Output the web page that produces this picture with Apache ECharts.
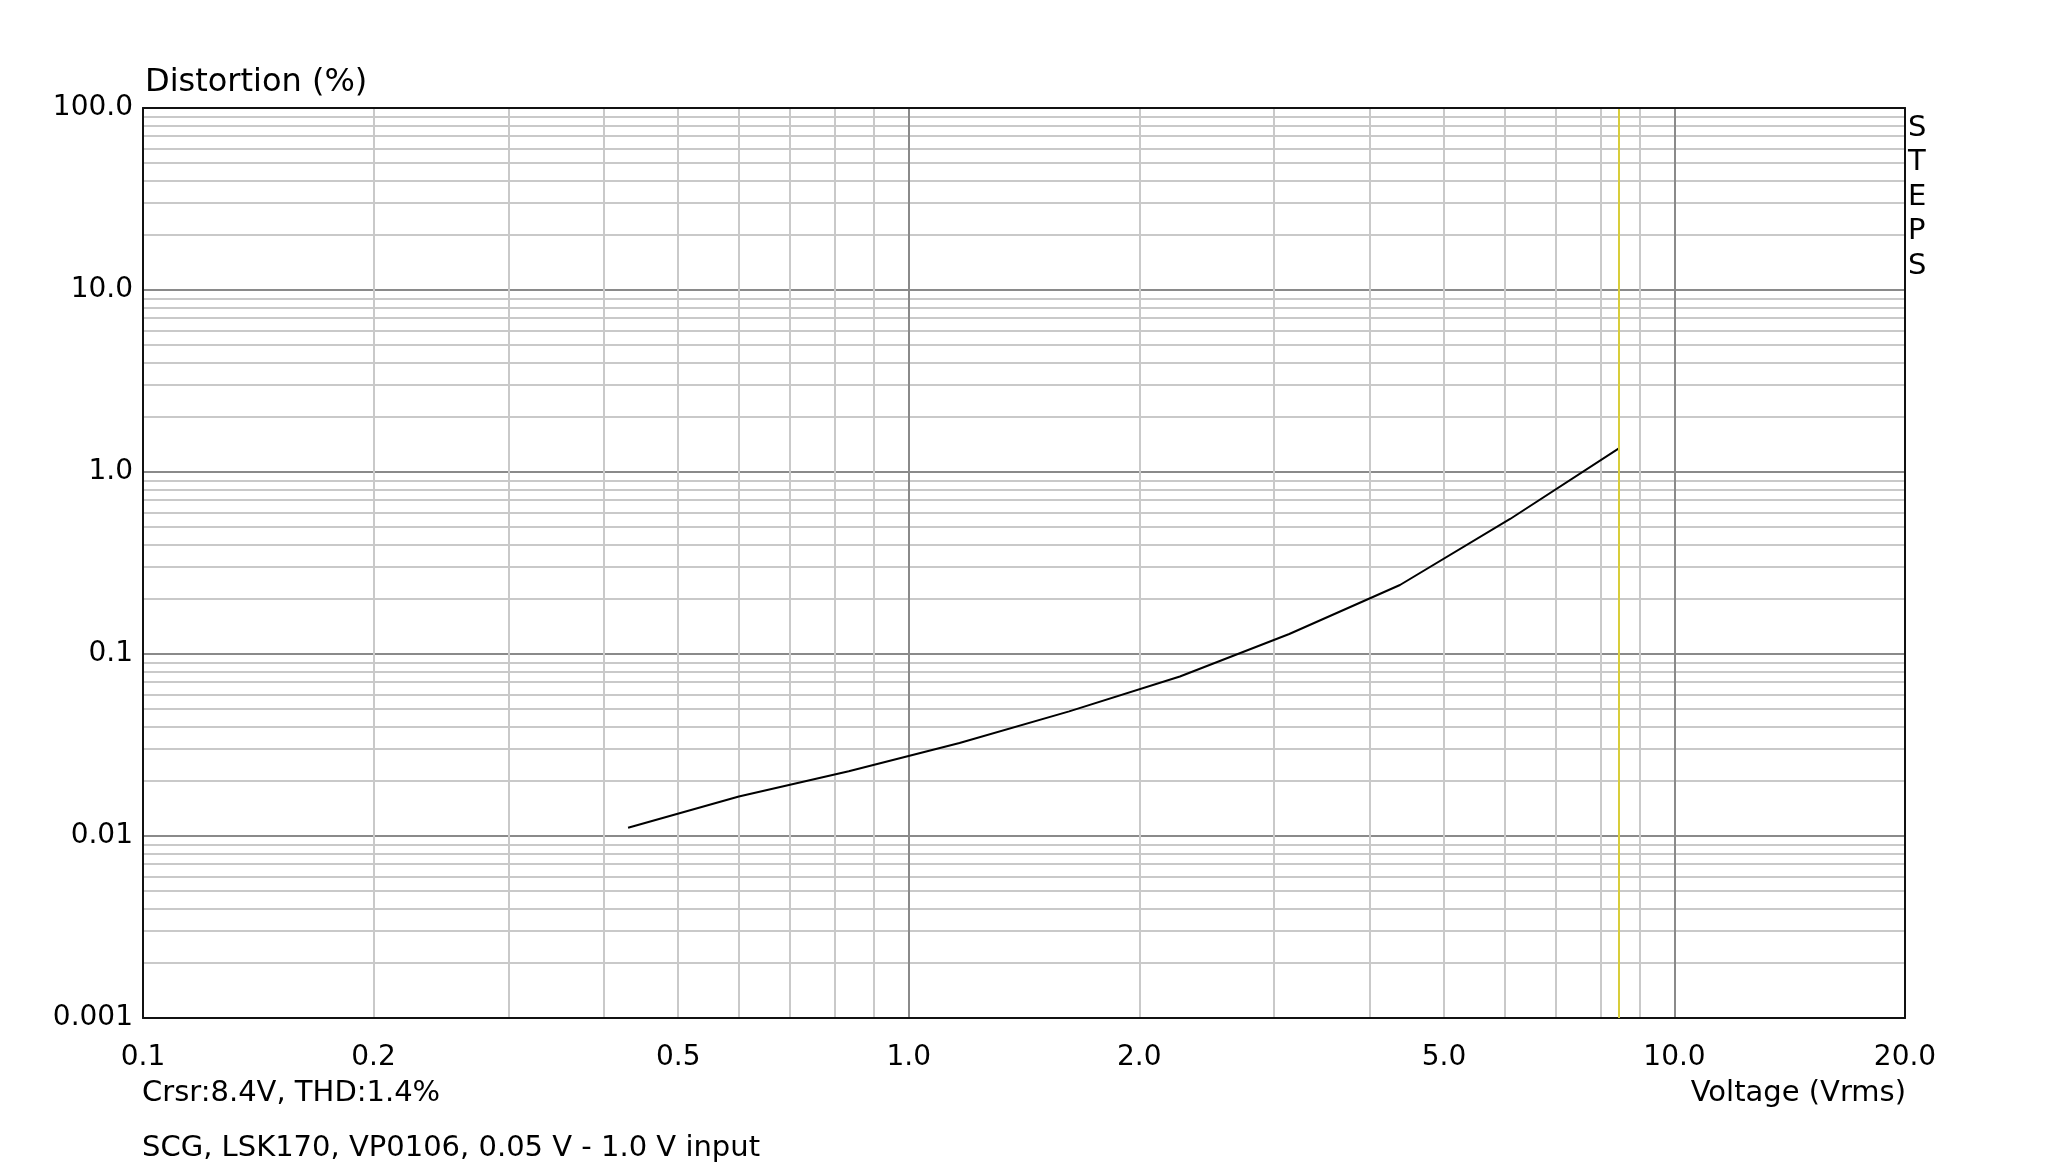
<!DOCTYPE html>
<html>
<head>
<meta charset="utf-8">
<script src="https://cdn.jsdelivr.net/npm/echarts@6/dist/echarts.min.js"></script>
<style>
html,body{margin:0;padding:0;background:#fff;}
#chart{width:2048px;height:1166px;}
</style>
</head>
<body>
<div id="chart"></div>
<script>
// ---- data ----
const voltage    = [0.43, 0.60, 0.835, 1.165, 1.62, 2.26, 3.14, 4.38, 6.1, 8.45];
const distortion = [0.0111, 0.0165, 0.0227, 0.0324, 0.0484, 0.0752, 0.1288, 0.2394, 0.552, 1.343];
const cursorVoltage = 8.45;

// ---- axis ticks / labels ----
const xTickLabels = [0.1, 0.2, 0.5, 1, 2, 5, 10, 20];
const yTickLabels = [0.001, 0.01, 0.1, 1, 10, 100];
const xGridValues = [0.2, 0.3, 0.4, 0.5, 0.6, 0.7, 0.8, 0.9, 1,
                     2, 3, 4, 5, 6, 7, 8, 9, 10];
const yGridValues = [0.002, 0.003, 0.004, 0.005, 0.006, 0.007, 0.008, 0.009, 0.01,
                     0.02, 0.03, 0.04, 0.05, 0.06, 0.07, 0.08, 0.09, 0.1,
                     0.2, 0.3, 0.4, 0.5, 0.6, 0.7, 0.8, 0.9, 1,
                     2, 3, 4, 5, 6, 7, 8, 9, 10,
                     20, 30, 40, 50, 60, 70, 80, 90];

const yTitle = 'Distortion (%)';
const xTitle = 'Voltage (Vrms)';
const cursorText = 'Crsr:8.4V, THD:1.4%';
const noteText = 'SCG, LSK170, VP0106, 0.05 V - 1.0 V input';
const sideText = 'STEPS';

const FONT = '"DejaVu Sans", "Liberation Sans", Arial, sans-serif';
const MINOR = '#c9c9c9';
const MAJOR = '#8a8a8a';
const gridColors = [MINOR, MINOR, MINOR, MINOR, MINOR, MINOR, MINOR, MINOR, MAJOR];

function fmt(v) {
  return v >= 1 ? Number(v).toFixed(1) : String(+Number(v).toPrecision(6));
}

const chart = echarts.init(document.getElementById('chart'), null, {renderer: 'canvas'});
chart.setOption({
  animation: false,
  backgroundColor: '#ffffff',
  textStyle: {fontFamily: FONT},
  title: [
    {text: xTitle, right: 142, top: 1079,
     textStyle: {fontFamily: FONT, fontSize: 29, fontWeight: 'normal', color: '#000'}, padding: 0},
    {text: cursorText, left: 142, top: 1079,
     textStyle: {fontFamily: FONT, fontSize: 29, fontWeight: 'normal', color: '#000'}, padding: 0},
    {text: noteText, left: 142, top: 1134,
     textStyle: {fontFamily: FONT, fontSize: 29, fontWeight: 'normal', color: '#000'}, padding: 0},
    {text: sideText.split('').join('\n'), left: 1908, top: 111,
     textStyle: {fontFamily: FONT, fontSize: 29, fontWeight: 'normal', color: '#000', lineHeight: 34.5}, padding: 0}
  ],
  grid: {left: 143, right: 143, top: 108, bottom: 148, containLabel: false, outerBoundsMode: 'none'},
  xAxis: [
    {
      type: 'log', logBase: 10, min: 0.1, max: 20,
      axisLine: {show: true, lineStyle: {color: '#111', width: 2}},
      axisTick: {show: false, customValues: xGridValues},
      axisLabel: {show: true, customValues: xTickLabels, formatter: fmt, margin: 26,
                  color: '#000', fontSize: 28, fontFamily: FONT},
      splitLine: {show: true, lineStyle: {color: gridColors, width: 2}},
      minorTick: {show: false}, minorSplitLine: {show: false}
    },
    {
      type: 'log', logBase: 10, min: 0.1, max: 20, position: 'top', z: 5,
      axisLine: {show: true, lineStyle: {color: '#111', width: 2}},
      axisTick: {show: false}, axisLabel: {show: false}, splitLine: {show: false}
    }
  ],
  yAxis: [
    {
      type: 'log', logBase: 10, min: 0.001, max: 100,
      name: yTitle, nameLocation: 'end', nameGap: 9,
      nameTextStyle: {fontFamily: FONT, fontSize: 32, color: '#000', align: 'left', verticalAlign: 'bottom', padding: [0, 0, 0, 2]},
      axisLine: {show: true, lineStyle: {color: '#111', width: 2}},
      axisTick: {show: false, customValues: yGridValues},
      axisLabel: {show: true, customValues: yTickLabels, formatter: fmt, margin: 10,
                  padding: [5, 0, 0, 0],
                  color: '#000', fontSize: 28, fontFamily: FONT},
      splitLine: {show: true, lineStyle: {color: gridColors, width: 2}},
      minorTick: {show: false}, minorSplitLine: {show: false}
    },
    {
      type: 'log', logBase: 10, min: 0.001, max: 100, position: 'right', z: 5,
      axisLine: {show: true, lineStyle: {color: '#111', width: 2}},
      axisTick: {show: false}, axisLabel: {show: false}, splitLine: {show: false}
    }
  ],
  series: [
    {
      type: 'line',
      xAxisIndex: 0, yAxisIndex: 0,
      data: voltage.map((v, i) => [v, distortion[i]]),
      showSymbol: false, symbol: 'none', smooth: false,
      lineStyle: {color: '#000', width: 2},
      z: 3,
      markLine: {
        silent: true, symbol: 'none', animation: false,
        label: {show: false},
        lineStyle: {color: '#d8cd3a', width: 2, type: 'solid'},
        data: [{xAxis: cursorVoltage}]
      }
    }
  ]
});
</script>
</body>
</html>
